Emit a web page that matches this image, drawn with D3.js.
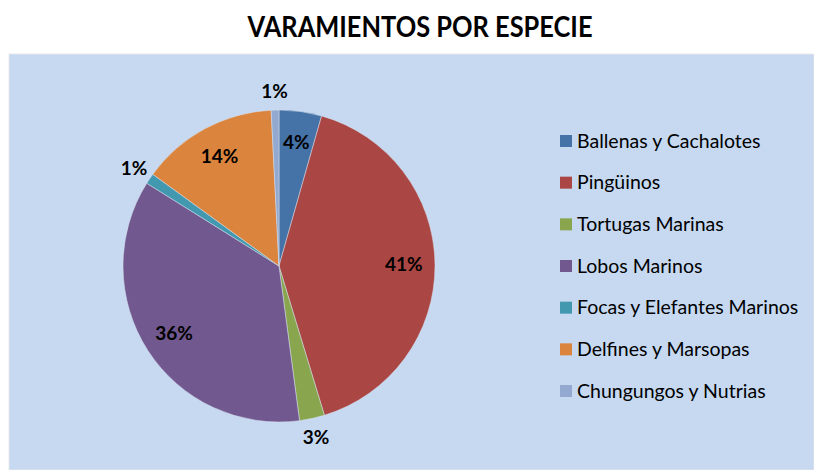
<!DOCTYPE html>
<html>
<head>
<meta charset="utf-8">
<script src="https://cdn.jsdelivr.net/npm/d3@7"></script>
<style>
  html, body { margin: 0; padding: 0; background: #fff; }
  svg { display: block; font-family: Lato, "Open Sans", sans-serif; }
</style>
</head>
<body>
<svg id="chart" width="814" height="470"></svg>
<script>
// values (percent of total)
const species = ["Ballenas y Cachalotes", "Pingüinos", "Tortugas Marinas", "Lobos Marinos",
                 "Focas y Elefantes Marinos", "Delfines y Marsopas", "Chungungos y Nutrias"];
const shares = [4.4, 40.9, 2.6, 36.0, 1.1, 14.2, 0.8];
const colors = ["#4572A7", "#AA4643", "#89A54E", "#71588F", "#4198AF", "#DB843D", "#93A9CF"];
// labels that sit outside the pie
const outside = [false, false, true, false, true, false, true];

const W = 814, H = 470;
const cx = 279, cy = 266, r = 156;

const svg = d3.select("#chart");

// plot area
svg.append("rect")
  .attr("x", 9).attr("y", 54)
  .attr("width", W - 9).attr("height", H - 54)
  .attr("fill", "#C6D9F1")
  .attr("stroke", "#e6e6ee").attr("stroke-width", 0.8);

svg.append("text")
  .attr("x", 420).attr("y", 37)
  .attr("text-anchor", "middle")
  .attr("font-size", 28).attr("font-weight", "bold")
  .attr("textLength", 345).attr("lengthAdjust", "spacingAndGlyphs")
  .attr("fill", "#000")
  .text("VARAMIENTOS POR ESPECIE");

const total = d3.sum(shares);
const pie = d3.pie().sort(null).value(d => d);
const arcs = pie(shares);
const arc = d3.arc().innerRadius(0).outerRadius(r);
const inLabel = d3.arc().innerRadius(r * 0.8).outerRadius(r * 0.8);
const outLabel = d3.arc().innerRadius(r + 19).outerRadius(r + 19);

const g = svg.append("g").attr("transform", `translate(${cx},${cy})`);

g.selectAll("path.slice")
  .data(arcs)
  .enter()
  .append("path")
  .attr("class", "slice")
  .attr("d", arc)
  .attr("fill", (d, i) => colors[i])
  .attr("stroke", "#d8e2ef")
  .attr("stroke-width", 0.5);

g.selectAll("text.lbl")
  .data(arcs)
  .enter()
  .append("text")
  .attr("class", "lbl")
  .attr("transform", (d, i) => `translate(${(outside[i] ? outLabel : inLabel).centroid(d)})`)
  .attr("text-anchor", "middle")
  .attr("dy", "0.35em")
  .attr("font-size", 19).attr("font-weight", "bold")
  .attr("fill", "#000")
  .text(d => Math.round(d.data / total * 100) + "%");

// legend
const legY = d3.scalePoint().domain(species).range([141, 391]);
const leg = svg.append("g");
const item = leg.selectAll("g")
  .data(species)
  .enter()
  .append("g")
  .attr("transform", d => `translate(560,${legY(d)})`);

item.append("rect")
  .attr("x", 0).attr("y", -6)
  .attr("width", 12).attr("height", 12)
  .attr("fill", (d, i) => colors[i]);

item.append("text")
  .attr("x", 17).attr("dy", "0.35em")
  .attr("font-size", 19.5)
  .attr("fill", "#000")
  .text(d => d);
</script>
</body>
</html>
